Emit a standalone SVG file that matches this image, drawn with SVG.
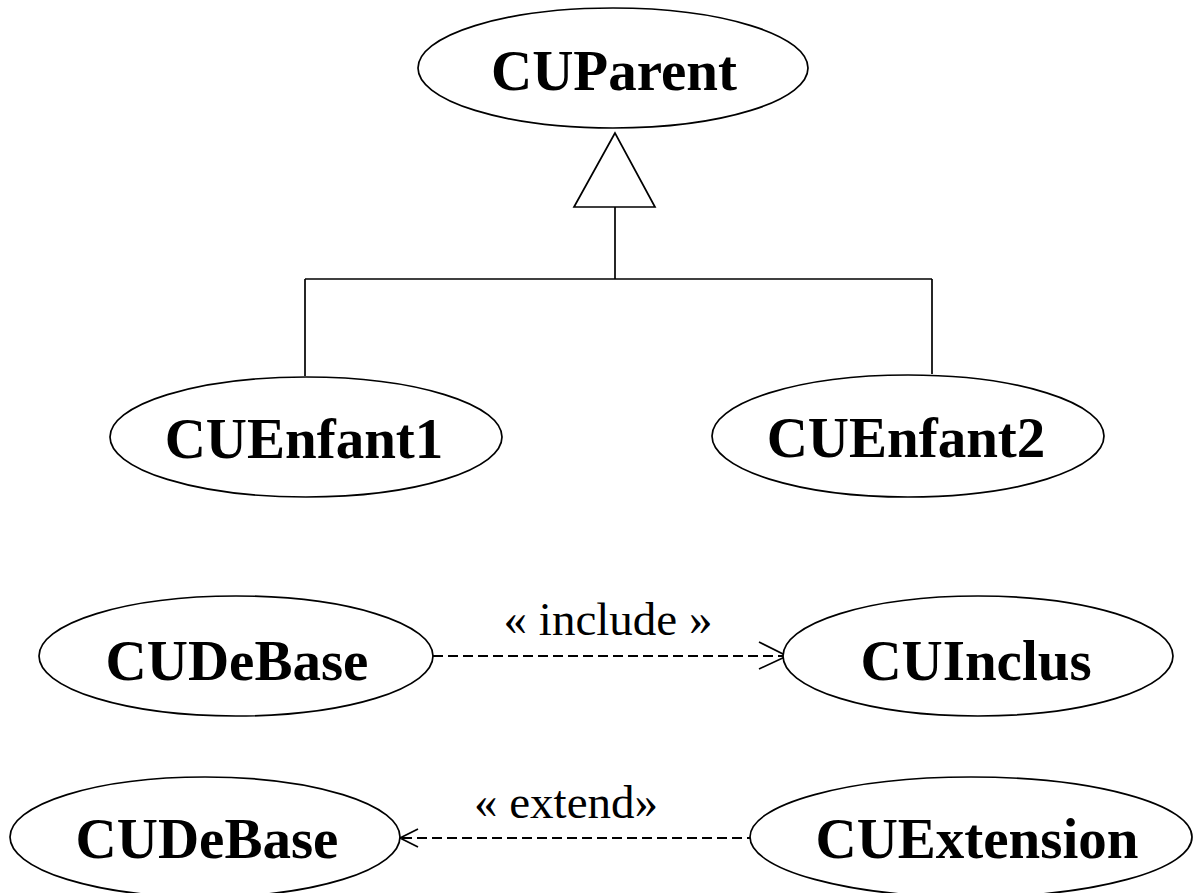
<svg xmlns="http://www.w3.org/2000/svg" width="1193" height="893" viewBox="0 0 1193 893">
<style>
.uc{fill:#fff;stroke:#000;stroke-width:1.7}
.lbl{font-family:"Liberation Serif","Times New Roman",serif;font-weight:bold;font-size:57px;text-anchor:middle;fill:#000}
.st{font-family:"Liberation Serif","Times New Roman",serif;font-size:47px;text-anchor:middle;fill:#000}
.ln{fill:none;stroke:#000;stroke-width:1.7}
.dash{fill:none;stroke:#000;stroke-width:1.8;stroke-dasharray:10 5}
</style>
<rect width="1193" height="893" fill="#fff"/>
<g id="connectors">
<polygon class="ln" points="615,133 574,207 655,207"/>
<line class="ln" x1="615" y1="207" x2="615" y2="279"/>
<line class="ln" x1="305" y1="279" x2="932" y2="279"/>
<line class="ln" x1="305" y1="279" x2="305" y2="376"/>
<line class="ln" x1="932" y1="279" x2="932" y2="374"/>
<line class="dash" x1="433" y1="656" x2="785" y2="656"/>
<polyline class="ln" points="759,642 787,656 759,669"/>
<text class="st" x="608" y="635">« include »</text>
<line class="dash" x1="757" y1="838" x2="402" y2="838"/>
<polyline class="ln" points="418,829 400,838 418,847"/>
<text class="st" x="566" y="818">« extend»</text>
</g>
<g id="CUParent"><ellipse class="uc" cx="613" cy="68" rx="195" ry="60"/><text class="lbl" x="614" y="90">CUParent</text></g>
<g id="CUEnfant1"><ellipse class="uc" cx="306" cy="437" rx="196" ry="60"/><text class="lbl" x="304" y="458">CUEnfant1</text></g>
<g id="CUEnfant2"><ellipse class="uc" cx="908" cy="436" rx="196" ry="61"/><text class="lbl" x="906" y="457">CUEnfant2</text></g>
<g id="CUDeBase1"><ellipse class="uc" cx="236" cy="656" rx="197" ry="60"/><text class="lbl" x="237" y="680">CUDeBase</text></g>
<g id="CUInclus"><ellipse class="uc" cx="978" cy="656" rx="195" ry="60"/><text class="lbl" x="976" y="680">CUInclus</text></g>
<g id="CUDeBase2"><ellipse class="uc" cx="205" cy="837" rx="195" ry="60"/><text class="lbl" x="207" y="858">CUDeBase</text></g>
<g id="CUExtension"><ellipse class="uc" cx="971" cy="837" rx="221" ry="60"/><text class="lbl" x="977" y="858">CUExtension</text></g>
</svg>
